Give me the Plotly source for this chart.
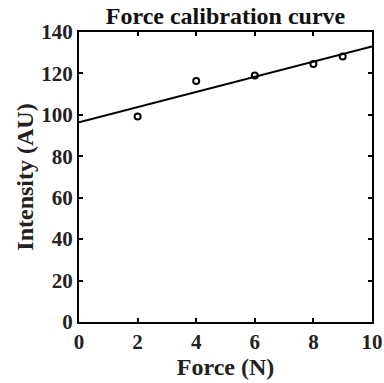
import plotly.graph_objects as go

# Measured calibration points
force_n = [2, 4, 6, 8, 9]
intensity_au = [99.2, 116.4, 119.0, 124.5, 128.2]

# Linear fit line endpoints
fit_force = [0, 10]
fit_intensity = [96.4, 133.0]

x_ticks = [0, 2, 4, 6, 8, 10]
y_ticks = [0, 20, 40, 60, 80, 100, 120, 140]

FONT = "Liberation Serif"

fig = go.Figure()
fig.add_trace(go.Scatter(
    x=fit_force, y=fit_intensity, mode="lines",
    line=dict(color="black", width=2), showlegend=False,
))
fig.add_trace(go.Scatter(
    x=force_n, y=intensity_au, mode="markers",
    marker=dict(symbol="circle-open", size=6, color="black", line=dict(width=2)),
    showlegend=False,
))

axis_common = dict(
    showline=True, linecolor="black", linewidth=2, mirror="ticks",
    ticks="inside", ticklen=4, tickwidth=2, tickcolor="black",
    showgrid=False, zeroline=False, automargin=False,
    tickfont=dict(family=FONT, size=21, color="#222"),
)

fig.update_layout(
    width=384, height=383,
    margin=dict(l=79, r=12, t=32, b=61),
    paper_bgcolor="white", plot_bgcolor="white",
    font=dict(family=FONT, color="#222"),
    title=dict(
        text="<b>Force calibration curve</b>",
        font=dict(family=FONT, size=24, color="#111"),
        x=0.5, xref="paper", xanchor="center",
        y=1 - 16 / 383, yref="container", yanchor="middle",
    ),
    xaxis=dict(
        range=[0, 10], tickvals=x_ticks,
        ticktext=[f"<b>{v}</b>" for v in x_ticks],
        title=dict(text="<b>Force (N)</b>", font=dict(family=FONT, size=24, color="#222"), standoff=4),
        **axis_common,
    ),
    yaxis=dict(
        range=[0, 140], tickvals=y_ticks,
        ticktext=[f"<b>{v}</b>" for v in y_ticks],
        title=dict(text="<b>Intensity (AU)</b>", font=dict(family=FONT, size=24, color="#222"), standoff=1),
        **axis_common,
    ),
)

fig.write_html("out.html")
